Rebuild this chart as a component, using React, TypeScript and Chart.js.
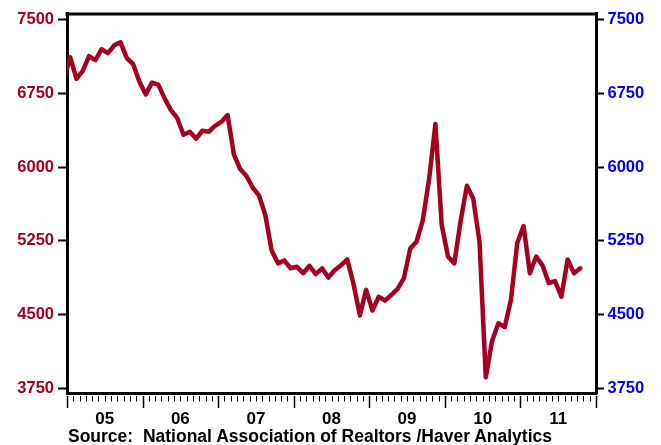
import React, { useEffect, useRef } from "react";
import { Chart, registerables } from "chart.js";

Chart.register(...registerables);

// First plotted month is Dec 2004 (clipped at the left edge); x axis runs Jan 2005 .. Jan 2012 in months.
const firstMonthOffset = -1; // Dec 2004 relative to Jan 2005
const xMinMonth = 0;
const xMaxMonth = 84;

// Existing home sales, SAAR, thousands
const sales2004 = [6890];
const sales2005 = [7120, 6900, 6980, 7130, 7090, 7200, 7160, 7240, 7270, 7110, 7050, 6870];
const sales2006 = [6740, 6860, 6840, 6700, 6580, 6500, 6330, 6360, 6290, 6370, 6360, 6420];
const sales2007 = [6460, 6530, 6130, 5980, 5910, 5790, 5710, 5510, 5150, 5020, 5050, 4970];
const sales2008 = [4985, 4920, 4995, 4910, 4970, 4875, 4950, 5000, 5060, 4810, 4490, 4750];
const sales2009 = [4540, 4680, 4640, 4700, 4760, 4870, 5170, 5240, 5460, 5880, 6440, 5410];
const sales2010 = [5090, 5020, 5450, 5810, 5680, 5240, 3860, 4230, 4410, 4370, 4650, 5230];
const sales2011 = [5400, 4920, 5090, 5000, 4820, 4840, 4680, 5060, 4920, 4970];

const yearLabels = ["05", "06", "07", "08", "09", "10", "11"];
const yTickValues = [3750, 4500, 5250, 6000, 6750, 7500];
const yMin = 3700;
const yMax = 7560;
const sourceText = "Source:  National Association of Realtors /Haver Analytics";

const RED = "#A50021";
const BLUE = "#0000FF";
const FONT = "Arial, 'Liberation Sans', Helvetica, sans-serif";

const allSales = [
  ...sales2004,
  ...sales2005,
  ...sales2006,
  ...sales2007,
  ...sales2008,
  ...sales2009,
  ...sales2010,
  ...sales2011,
];

const framePlugin = {
  id: "frameAndMonthTicks",
  afterDraw(chart: any) {
    const { ctx, chartArea: a } = chart;
    const xs = chart.scales.x;
    ctx.save();
    ctx.strokeStyle = "#000";
    ctx.lineWidth = 3;
    ctx.beginPath();
    ctx.moveTo(a.left - 1.5, a.top);
    ctx.lineTo(a.right + 1.5, a.top);
    ctx.stroke();
    for (let m = xMinMonth; m <= xMaxMonth; m++) {
      const px = Math.round(xs.getPixelForValue(m)) + 0.5;
      const major = m % 12 === 0;
      ctx.lineWidth = major ? 1.5 : 1;
      ctx.beginPath();
      ctx.moveTo(px, a.bottom + 3);
      ctx.lineTo(px, a.bottom + (major ? 15 : 8.5));
      ctx.stroke();
    }
    ctx.restore();
  },
};

export default function App() {
  const ref = useRef<HTMLCanvasElement | null>(null);

  useEffect(() => {
    if (!ref.current) return;
    const points = allSales.map((v, i) => ({ x: i + firstMonthOffset + 0.5, y: v }));
    const setYTicks = (s: any) => {
      s.ticks = yTickValues.map((v) => ({ value: v }));
    };
    const chart = new Chart(ref.current, {
      type: "line",
      data: {
        datasets: [
          {
            data: points,
            borderColor: RED,
            borderWidth: 4.5,
            borderJoinStyle: "round",
            borderCapStyle: "round",
            pointRadius: 0,
            tension: 0,
            fill: false,
            clip: 0,
            yAxisID: "y",
          } as any,
        ],
      },
      options: {
        animation: false,
        responsive: false,
        devicePixelRatio: 1,
        layout: { padding: { top: 10, left: 0, right: 0, bottom: 0 } },
        plugins: { legend: { display: false }, tooltip: { enabled: false }, title: { display: false } },
        scales: {
          x: {
            type: "linear",
            min: xMinMonth,
            max: xMaxMonth,
            afterBuildTicks: (s: any) => {
              s.ticks = yearLabels.map((_, i) => ({ value: i * 12 + 6 }));
            },
            afterFit: (s: any) => {
              s.height = 52;
            },
            ticks: {
              autoSkip: false,
              maxRotation: 0,
              minRotation: 0,
              padding: 16.5,
              color: "#000",
              font: { family: FONT, size: 17, weight: "bold" },
              callback: (_v: any, i: number) => yearLabels[i],
            },
            grid: { display: false, drawTicks: false },
            border: { display: true, color: "#000", width: 3 },
          },
          y: {
            type: "linear",
            position: "left",
            min: yMin,
            max: yMax,
            afterBuildTicks: setYTicks,
            afterFit: (s: any) => {
              s.width = 67;
            },
            ticks: {
              padding: 4,
              color: RED,
              font: { family: FONT, size: 16.5, weight: "bold" },
              callback: (v: any) => String(v),
            },
            grid: {
              display: true,
              drawOnChartArea: false,
              drawTicks: true,
              tickLength: 9,
              tickWidth: 2,
              tickColor: "#000",
            },
            border: { display: true, color: "#000", width: 3 },
          },
          y2: {
            type: "linear",
            position: "right",
            min: yMin,
            max: yMax,
            afterBuildTicks: setYTicks,
            afterFit: (s: any) => {
              s.width = 65;
            },
            ticks: {
              padding: 3.5,
              color: BLUE,
              font: { family: FONT, size: 16.5, weight: "bold" },
              callback: (v: any) => String(v),
            },
            grid: {
              display: true,
              drawOnChartArea: false,
              drawTicks: true,
              tickLength: 8,
              tickWidth: 2,
              tickColor: "#000",
            },
            border: { display: true, color: "#000", width: 3 },
          },
        },
      } as any,
      plugins: [framePlugin],
    });
    return () => chart.destroy();
  }, []);

  return (
    <div style={{ position: "absolute", left: 0, top: 0, width: 661, height: 445, background: "#fff" }}>
      <canvas ref={ref} width={661} height={445} style={{ display: "block", width: 661, height: 445 }} />
      <div
        style={{
          position: "absolute",
          left: 68,
          top: 428,
          fontFamily: FONT,
          fontWeight: "bold",
          fontSize: 17.5,
          lineHeight: 1,
          color: "#000",
          whiteSpace: "pre",
        }}
      >
        {sourceText}
      </div>
    </div>
  );
}
